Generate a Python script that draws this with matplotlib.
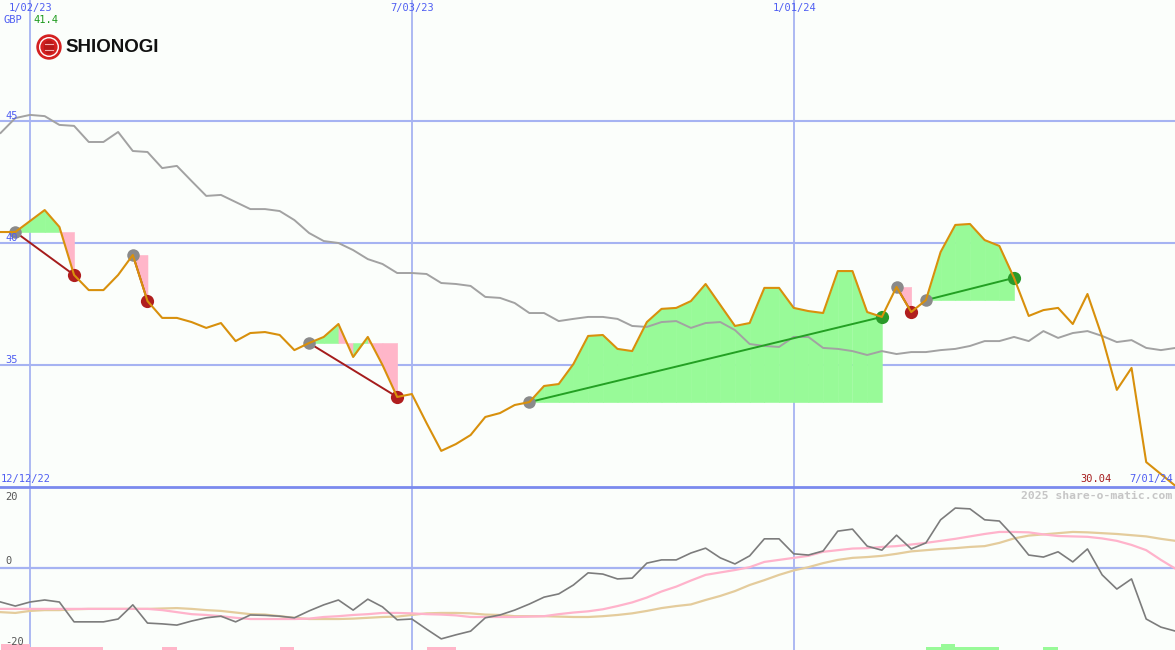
import numpy as np
import pandas as pd
import matplotlib
matplotlib.use('Agg')
import matplotlib.pyplot as plt
import matplotlib.dates as mdates
import matplotlib.transforms as mtransforms
from matplotlib.patches import Circle, Ellipse

# weekly data, SHIONOGI (GBP)
weeks = pd.date_range('2022-12-19', periods=81, freq='7D')

price = [40.45, 40.45, 40.90, 41.35, 40.66, 38.69, 38.07, 38.07, 38.69, 39.51,
         37.62, 36.93, 36.93, 36.76, 36.52, 36.72, 35.98, 36.31, 36.35, 36.23,
         35.61, 35.90, 36.15, 36.68, 35.33, 36.15, 35.00, 33.69, 33.81, 32.62,
         31.48, 31.76, 32.13, 32.87, 33.03, 33.36, 33.48, 34.14, 34.22, 35.04,
         36.19, 36.23, 35.66, 35.57, 36.76, 37.30, 37.34, 37.62, 38.32, 37.46,
         36.60, 36.72, 38.16, 38.16, 37.34, 37.21, 37.13, 38.85, 38.85, 37.17,
         36.97, 38.20, 37.17, 37.66, 39.63, 40.74, 40.78, 40.12, 39.88, 38.57,
         37.01, 37.25, 37.34, 36.68, 37.91, 36.15, 33.98, 34.88, 31.02, 30.53,
         30.04]

ma_slow = [44.51, 45.12, 45.25, 45.20, 44.84, 44.80, 44.14, 44.14, 44.55, 43.77,
           43.73, 43.07, 43.16, 42.54, 41.93, 41.97, 41.68, 41.39, 41.39, 41.31,
           40.94, 40.41, 40.08, 40.00, 39.71, 39.34, 39.14, 38.77, 38.77, 38.73,
           38.36, 38.32, 38.24, 37.79, 37.75, 37.54, 37.13, 37.13, 36.80, 36.89,
           36.97, 36.97, 36.89, 36.60, 36.56, 36.76, 36.80, 36.52, 36.72, 36.76,
           36.43, 35.86, 35.78, 35.74, 36.15, 36.15, 35.70, 35.66, 35.57, 35.41,
           35.57, 35.45, 35.53, 35.53, 35.61, 35.66, 35.78, 35.98, 35.98, 36.15,
           35.98, 36.39, 36.11, 36.31, 36.39, 36.19, 35.94, 36.02, 35.70, 35.61,
           35.70]

osc = [-8.4, -9.4, -8.4, -7.9, -8.4, -13.3, -13.3, -13.3, -12.6, -9.1,
       -13.6, -13.8, -14.1, -13.1, -12.3, -11.9, -13.3, -11.6, -11.7, -11.9,
       -12.3, -10.6, -9.1, -7.9, -10.4, -7.7, -9.6, -12.8, -12.6, -15.1,
       -17.5, -16.5, -15.6, -12.3, -11.6, -10.4, -8.9, -7.2, -6.4, -4.2,
       -1.2, -1.5, -2.7, -2.5, 1.2, 2.0, 2.0, 3.7, 4.9, 2.5,
       1.0, 3.0, 7.2, 7.2, 3.5, 3.2, 4.2, 9.1, 9.6, 5.4,
       4.4, 8.1, 4.7, 6.2, 11.9, 14.8, 14.6, 11.9, 11.6, 7.7,
       3.2, 2.7, 4.0, 1.5, 4.7, -1.7, -5.2, -2.7, -12.6, -14.6,
       -15.6]

osc_fast = [-10.1, -10.1, -10.1, -10.1, -10.1, -10.1, -10.1, -10.1, -10.1, -10.1,
            -10.1, -10.4, -10.9, -11.4, -11.6, -11.9, -12.3, -12.6, -12.6, -12.6,
            -12.6, -12.5, -12.1, -11.9, -11.6, -11.4, -11.1, -11.1, -11.2, -11.4,
            -11.5, -11.7, -12.1, -12.1, -12.1, -12.1, -12.0, -11.9, -11.4, -11.0,
            -10.7, -10.2, -9.4, -8.5, -7.3, -5.8, -4.6, -3.1, -1.7, -1.1,
            -0.5, 0.2, 1.5, 2.0, 2.5, 3.0, 4.0, 4.4, 4.8, 4.9,
            5.2, 5.4, 5.8, 6.2, 6.7, 7.2, 7.8, 8.4, 8.9, 8.9,
            8.8, 8.3, 7.9, 7.8, 7.7, 7.3, 6.7, 5.7, 4.4, 2.0,
            -0.2]

osc_slow = [-10.9, -11.1, -10.6, -10.4, -10.4, -10.2, -10.1, -10.1, -10.1, -10.1,
            -10.1, -10.0, -9.9, -10.1, -10.4, -10.6, -11.0, -11.4, -11.5, -11.9,
            -12.3, -12.6, -12.6, -12.6, -12.5, -12.3, -12.1, -12.0, -11.6, -11.2,
            -11.1, -11.1, -11.2, -11.5, -11.6, -11.9, -11.9, -11.9, -12.0, -12.1,
            -12.1, -11.9, -11.6, -11.2, -10.6, -9.9, -9.4, -9.0, -7.9, -6.9,
            -5.7, -4.2, -3.0, -1.7, -0.6, 0.2, 1.2, 2.0, 2.5, 2.7,
            3.0, 3.5, 4.1, 4.4, 4.7, 4.9, 5.2, 5.4, 6.2, 7.3,
            8.0, 8.3, 8.6, 8.9, 8.8, 8.6, 8.4, 8.1, 7.8, 7.2,
            6.7]

# +1/+2 green signal bar, -1/-2 pink signal bar
sig_bars = [-2, -2, -1, -1, -1, -1, -1, 0, 0, 0,
            0, -1, 0, 0, 0, 0, 0, 0, 0, -1,
            0, 0, 0, 0, 0, 0, 0, 0, 0, -1,
            -1, 0, 0, 0, 0, 0, 0, 0, 0, 0,
            0, 0, 0, 0, 0, 0, 0, 0, 0, 0,
            0, 0, 0, 0, 0, 0, 0, 0, 0, 0,
            0, 0, 0, 1, 2, 1, 1, 1, 0, 0,
            0, 1, 0, 0, 0, 0, 0, 0, 0, 0,
            0]

trade_start = [1, 9, 21, 36, 61, 63]
trade_end = [5, 10, 27, 60, 62, 69]

grid_dates = ['2023-01-02', '2023-07-03', '2024-01-01']
grid_labels = ['1/02/23', '7/03/23', '1/01/24']
price_grid = [35, 40, 45]
osc_labels = [20, 0, -20]

BG = '#fbfefb'
GRID = '#a6b3f2'
BLUE = '#4f5ef2'
GREEN = '#98fa98'
PINK = '#ffb6c9'
ORANGE = '#d8900c'

W, H = 1175, 650
fig = plt.figure(figsize=(W / 100, H / 100), dpi=100, facecolor=BG)
ax = fig.add_axes([0, 163 / H, 1, 487 / H])
ax2 = fig.add_axes([0, 0, 1, 163 / H])
ov = fig.add_axes([0, 0, 1, 1], facecolor='none')
ov.set_xlim(0, W)
ov.set_ylim(H, 0)
ov.axis('off')

x = mdates.date2num(weeks)
xlo, xhi = x[0] - 0.3, x[0] + 7 * 79.96
gx = mdates.date2num(pd.to_datetime(grid_dates))

for a in (ax, ax2):
    a.set_facecolor(BG)
    a.set_xlim(xlo, xhi)
    for s in a.spines.values():
        s.set_visible(False)
    a.set_xticks([])
    a.set_yticks([])
    for g in gx:
        a.axvline(g, color=GRID, lw=1.3, zorder=0)

# ---- price panel
ax.set_ylim(30, 30 + 487 / 24.4)
for g in price_grid:
    ax.axhline(g, color=GRID, lw=1.5, zorder=0)

p = np.array(price)
for s, e in zip(trade_start, trade_end):
    lvl = p[s]
    for k in range(s, e):
        c = GREEN if p[k + 1] >= lvl else PINK
        ax.fill_between(x[k:k + 2], lvl, p[k:k + 2], color=c, lw=0.4, zorder=1)

ax.plot(x, ma_slow, color='#a2a2a2', lw=1.4, zorder=2)

for s, e in zip(trade_start, trade_end):
    win = p[e] >= p[s]
    lc = '#23a023' if win else '#a51c1c'
    ax.plot([x[s], x[e]], [p[s], p[e]], color=lc, lw=1.4, zorder=3)
    ax.plot(x[s], p[s], 'o', ms=9, color='#8a8a8a', mec='none', zorder=4)
    ax.plot(x[e], p[e], 'o', ms=9.5, color='#2a9a2a' if win else '#b01e1e',
            mec='none', zorder=4)

ax.plot(x, price, color=ORANGE, lw=1.5, zorder=5)

# ---- oscillator panel
ax2.set_ylim(-20.25, 20.0)
ax2.axhline(0, color=GRID, lw=1.6, zorder=0)
ax2.plot(x, osc_slow, color='#e4cc9c', lw=1.6, zorder=2)
ax2.plot(x, osc_fast, color='#ffb3cb', lw=1.6, zorder=2)
ax2.plot(x, osc, color='#7c7c7c', lw=1.2, zorder=3)
for k, b in enumerate(sig_bars):
    if b:
        ax2.bar(x[k], abs(b) * 0.75, width=7, bottom=-20.25, align='edge',
                color=GREEN if b > 0 else PINK, lw=0, zorder=1)

# ---- separator and texts
ov.axhline(487, color='#7a8aee', lw=2.0)
mono = 'DejaVu Sans Mono'
tx_top = mtransforms.blended_transform_factory(ax.transData, ov.transData)
for g, lab in zip(gx, grid_labels):
    ov.text(g + 0.3, 8, lab, transform=tx_top, ha='center', va='center',
            color=BLUE, fontsize=7.5, family=mono)

tx_lbl = mtransforms.blended_transform_factory(ov.transData, ax.transData)
for g in price_grid:
    ov.text(5, g, str(g), transform=tx_lbl, ha='left', va='bottom',
            color=BLUE, fontsize=7.5, family=mono)

tx_osc = mtransforms.blended_transform_factory(ov.transData, ax2.transData)
for v in osc_labels:
    ov.text(5, v - 1.2 if v > 0 else v + 0.4, str(v), transform=tx_osc, ha='left',
            va='top' if v > 0 else 'bottom', color='#555555', fontsize=7.5, family=mono)

ov.text(4, 20, 'GBP', ha='left', va='center', color=BLUE, fontsize=7.5, family=mono)
ov.text(33, 20, f'{max(price):.1f}', ha='left', va='center', color='#1c9a1c',
        fontsize=7.5, family=mono)
ov.text(1, 479, '12/12/22', ha='left', va='center', color=BLUE, fontsize=7.5, family=mono)
ov.text(1112, 479, f'{price[-1]:.2f}', ha='right', va='center', color='#a51c1c',
        fontsize=7.5, family=mono)
ov.text(1173, 479, '7/01/24', ha='right', va='center', color=BLUE, fontsize=7.5, family=mono)
ov.text(1172, 496, '2025 share-o-matic.com', ha='right', va='center', color='#c6c6c6',
        fontsize=8.2, family=mono, weight='bold')

# logo
ov.add_patch(Circle((49, 47), 12, color='#d42020', zorder=5))
ov.add_patch(Circle((49, 47), 9.3, fill=False, ec='white', lw=1.0, zorder=6))
ov.add_patch(Ellipse((49, 47), 9, 12, color='#b81818', zorder=6))
ov.plot([45, 53], [44, 44], color='#f2b0b0', lw=0.8, zorder=7)
ov.plot([45, 53], [50, 50], color='#f2b0b0', lw=0.8, zorder=7)
ov.text(65, 48, 'SHIONOGI', ha='left', va='center', fontsize=13.5, weight='bold',
        family='Liberation Sans', color='#111111')

fig.savefig('out.png', dpi=100, facecolor=BG)
